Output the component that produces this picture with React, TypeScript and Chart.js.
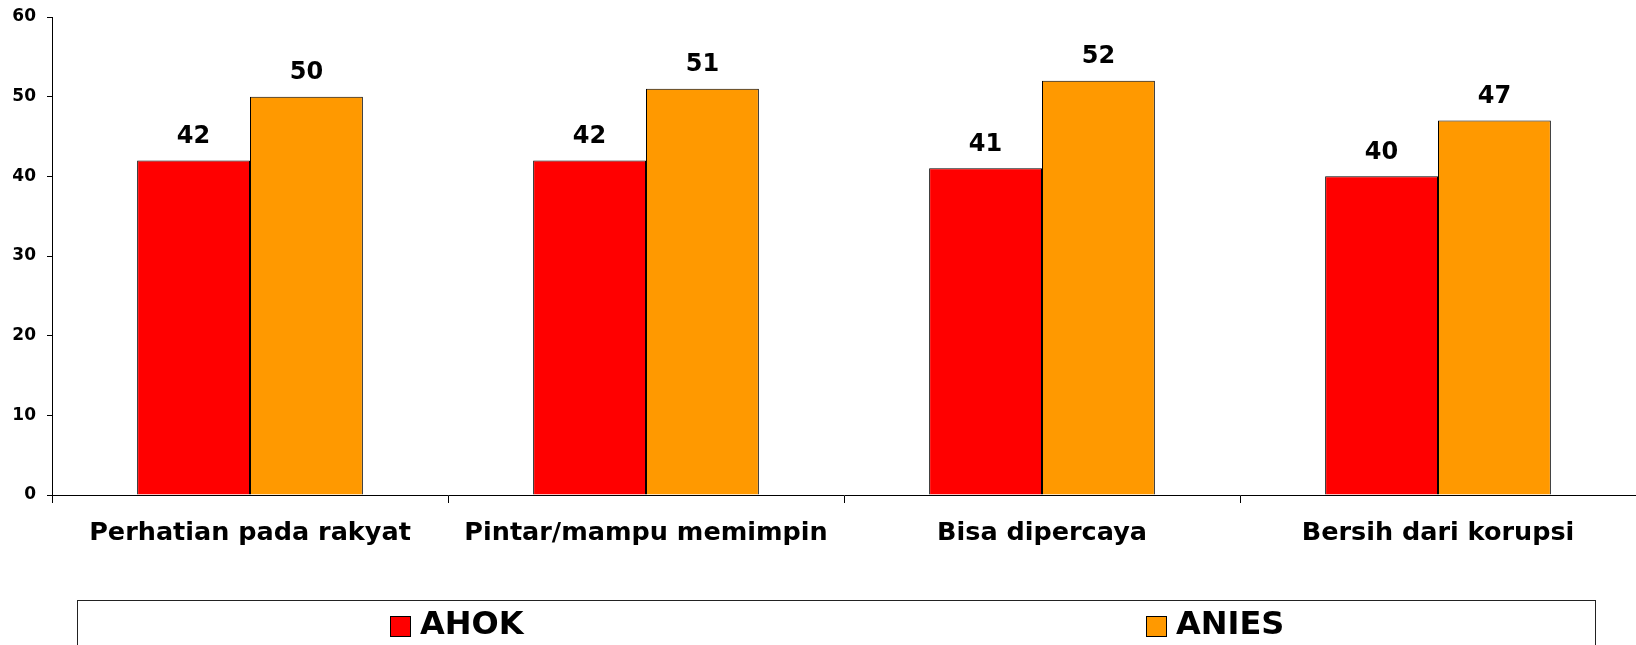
import React, { useEffect, useRef } from "react";
import { Chart, registerables } from "chart.js";

Chart.register(...registerables);

const categories = [
  "Perhatian pada rakyat",
  "Pintar/mampu memimpin",
  "Bisa dipercaya",
  "Bersih dari korupsi",
];
const seriesNames = ["AHOK", "ANIES"];
const ahokValues = [42, 42, 41, 40];
const aniesValues = [50, 51, 52, 47];
const seriesColors = ["#FF0000", "#FF9900"];
const yMin = 0;
const yMax = 60;
const yStep = 10;

const FONT = "'DejaVu Sans', Verdana, sans-serif";

const valueLabels = {
  id: "valueLabels",
  afterDatasetsDraw(chart: any) {
    const ctx = chart.ctx;
    ctx.save();
    ctx.font = `bold 24px ${FONT}`;
    ctx.fillStyle = "#000";
    ctx.textAlign = "center";
    ctx.textBaseline = "middle";
    chart.data.datasets.forEach((ds: any, i: number) => {
      const meta = chart.getDatasetMeta(i);
      meta.data.forEach((bar: any, j: number) => {
        ctx.fillText(String(ds.data[j]), bar.x, bar.y - 23.5);
      });
    });
    ctx.restore();
  },
};

const boxLegend = {
  id: "boxLegend",
  afterDraw(chart: any) {
    const ctx = chart.ctx;
    const left = 77;
    const right = chart.width - 41;
    const top = 600;
    ctx.save();
    ctx.strokeStyle = "#222";
    ctx.lineWidth = 1;
    ctx.strokeRect(left + 0.5, top + 0.5, right - left, 200);
    const ds = chart.data.datasets;
    const n = ds.length;
    const colW = (right - left) / n;
    ctx.font = `bold 32px ${FONT}`;
    ctx.textBaseline = "middle";
    ctx.textAlign = "left";
    const cy = 626;
    ds.forEach((d: any, i: number) => {
      const tw = ctx.measureText(d.label).width;
      const itemW = 20 + 10 + tw;
      const cx = left + colW * (i + 0.5);
      const x0 = Math.round(cx - itemW / 2);
      ctx.fillStyle = d.backgroundColor;
      ctx.fillRect(x0, cy - 10, 20, 20);
      ctx.strokeStyle = "#000";
      ctx.strokeRect(x0 + 0.5, cy - 10 + 0.5, 20, 20);
      ctx.fillStyle = "#000";
      ctx.fillText(d.label, x0 + 30, cy);
    });
    ctx.restore();
  },
};

export default function App() {
  const ref = useRef<HTMLCanvasElement | null>(null);

  useEffect(() => {
    document.body.style.margin = "0";
    document.body.style.overflow = "hidden";
    const canvas = ref.current;
    if (!canvas) return;
    const chart = new Chart(canvas, {
      type: "bar",
      data: {
        labels: categories,
        datasets: [
          {
            label: seriesNames[0],
            data: ahokValues,
            backgroundColor: seriesColors[0],
            borderColor: "#000",
            borderWidth: 1,
            categoryPercentage: 0.57,
            barPercentage: 1.0,
          },
          {
            label: seriesNames[1],
            data: aniesValues,
            backgroundColor: seriesColors[1],
            borderColor: "#000",
            borderWidth: 1,
            categoryPercentage: 0.57,
            barPercentage: 1.0,
          },
        ],
      },
      options: {
        responsive: false,
        animation: false,
        devicePixelRatio: 1,
        layout: { padding: { top: 17, right: 0, left: 0, bottom: 0 } },
        plugins: {
          legend: { display: false },
          tooltip: { enabled: false },
        },
        scales: {
          x: {
            grid: {
              display: true,
              drawOnChartArea: false,
              drawTicks: true,
              tickLength: 8,
              color: "#000",
              offset: true,
            },
            border: { display: true, color: "#000", width: 1 },
            ticks: {
              color: "#000",
              font: { family: FONT, size: 25.5, weight: "bold" },
              padding: 15,
              maxRotation: 0,
              autoSkip: false,
            },
            afterFit(scale: any) {
              scale.height = 150;
              scale.paddingLeft = 0;
              scale.paddingRight = 0;
            },
          },
          y: {
            min: yMin,
            max: yMax,
            grid: {
              display: true,
              drawOnChartArea: false,
              drawTicks: true,
              tickLength: 5,
              color: "#000",
            },
            border: { display: true, color: "#000", width: 1 },
            ticks: {
              stepSize: yStep,
              color: "#000",
              font: { family: FONT, size: 17, weight: "bold" },
              padding: 11,
            },
            afterFit(scale: any) {
              scale.width = 52;
              scale.paddingTop = 0;
              scale.paddingBottom = 0;
            },
          },
        },
      },
      plugins: [valueLabels, boxLegend],
    });
    return () => chart.destroy();
  }, []);

  return (
    <div style={{ width: 1636, height: 645 }}>
      <canvas ref={ref} width={1636} height={645} />
    </div>
  );
}
